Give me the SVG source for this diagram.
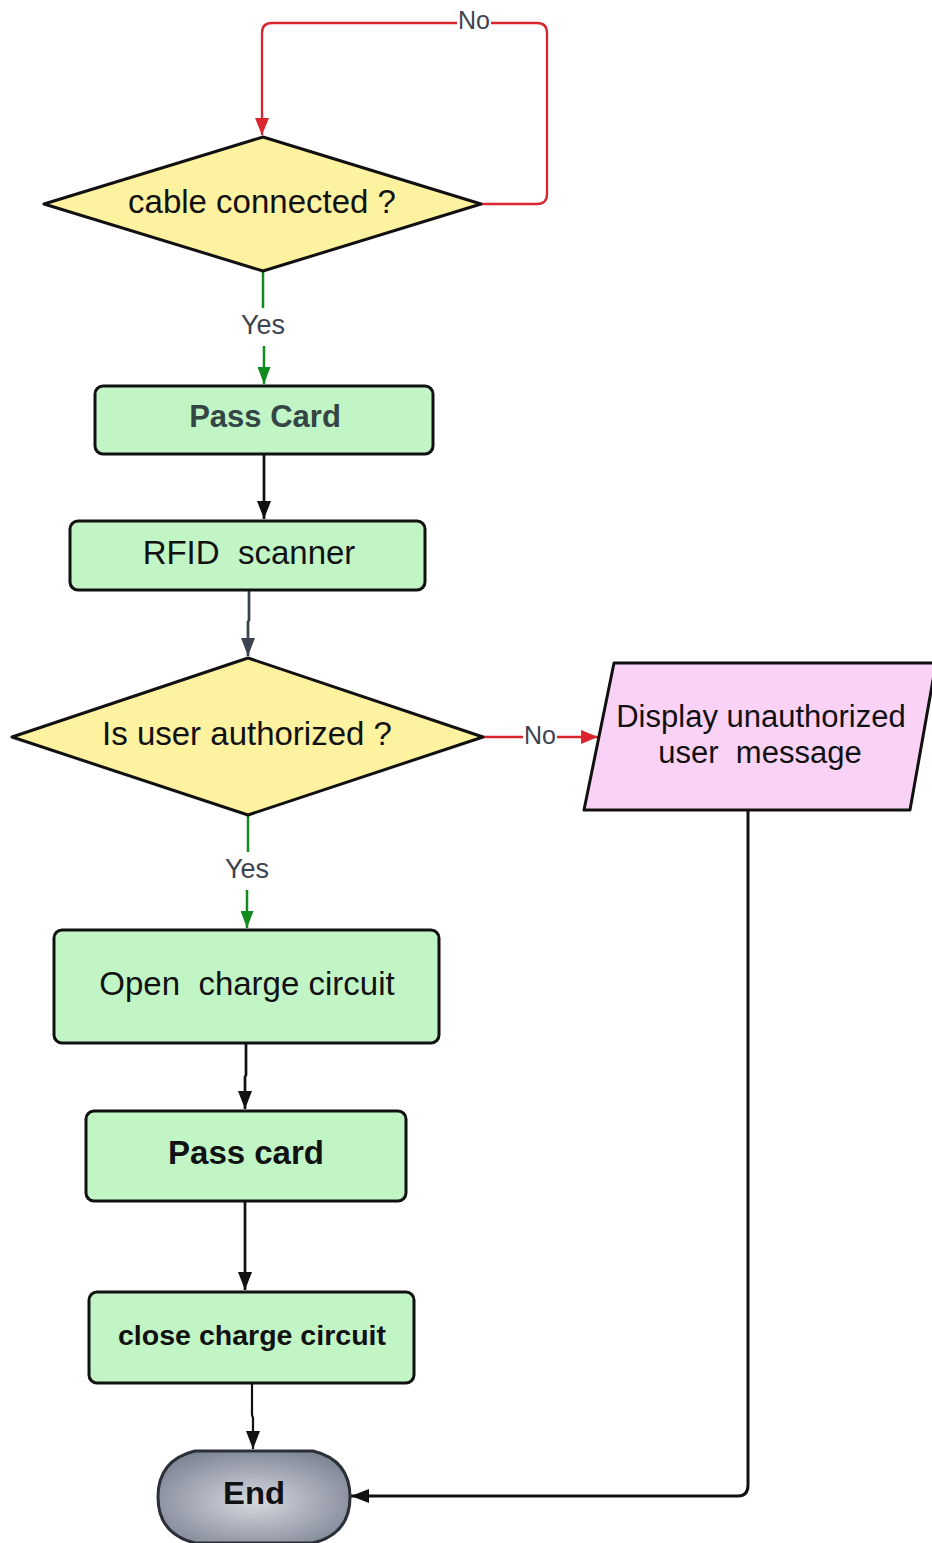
<svg xmlns="http://www.w3.org/2000/svg" width="932" height="1543" viewBox="0 0 932 1543">
<defs>
<style>
.box{fill:#c1f5c6;stroke:#111;stroke-width:3}
.dia{fill:#fdf2a0;stroke:#111;stroke-width:3;stroke-linejoin:round}
.io{fill:#f9d2f5;stroke:#111;stroke-width:3;stroke-linejoin:round}
.t{font-family:"Liberation Sans",Arial,sans-serif;text-anchor:middle;fill:#111}
.lbl{font-family:"Liberation Sans",Arial,sans-serif;text-anchor:middle;fill:#3e4450;font-size:25px}
.red{stroke:#d9262c;stroke-width:2.3;fill:none}
.grn{stroke:#118a1e;stroke-width:2.5;fill:none}
.blk{stroke:#111;stroke-width:2.7;fill:none}
</style>
<marker id="ar" viewBox="0 0 10 10" refX="10" refY="5" markerWidth="17" markerHeight="14" markerUnits="userSpaceOnUse" orient="auto" preserveAspectRatio="none"><path d="M0,0 L10,5 L0,10 z" fill="#d9262c"/></marker>
<marker id="ag" viewBox="0 0 10 10" refX="10" refY="5" markerWidth="17" markerHeight="13" markerUnits="userSpaceOnUse" orient="auto" preserveAspectRatio="none"><path d="M0,0 L10,5 L0,10 z" fill="#118a1e"/></marker>
<marker id="ab" viewBox="0 0 10 10" refX="10" refY="5" markerWidth="18" markerHeight="14" markerUnits="userSpaceOnUse" orient="auto" preserveAspectRatio="none"><path d="M0,0 L10,5 L0,10 z" fill="#111"/></marker>
<marker id="ad" viewBox="0 0 10 10" refX="10" refY="5" markerWidth="18" markerHeight="14" markerUnits="userSpaceOnUse" orient="auto" preserveAspectRatio="none"><path d="M0,0 L10,5 L0,10 z" fill="#3a4250"/></marker>
<radialGradient id="eg" cx="0.5" cy="0.55" r="0.6">
<stop offset="0" stop-color="#d6d9e0"/>
<stop offset="1" stop-color="#7e8595"/>
</radialGradient>
</defs>
<rect width="932" height="1543" fill="#fff"/>
<g id="connectors">
<path class="red" d="M481,204 H537 Q547,204 547,194 V33 Q547,23 537,23 H272 Q262,23 262,33 V135" marker-end="url(#ar)"/>
<rect x="457" y="8" width="34" height="24" fill="#fff"/>
<text class="lbl" x="474" y="29">No</text>
<path class="grn" d="M263,271 V308"/>
<text class="lbl" x="263" y="334" font-size="27" style="font-size:27px">Yes</text>
<path class="grn" d="M264,346 V384" marker-end="url(#ag)"/>
<path class="blk" d="M264,455 V519" marker-end="url(#ab)"/>
<path d="M249,591 V620 L248,622 V656" stroke="#3a4250" stroke-width="2.7" fill="none" marker-end="url(#ad)"/>
<path class="red" d="M483,737 H598" marker-end="url(#ar)"/>
<rect x="523" y="722" width="34" height="26" fill="#fff"/>
<text class="lbl" x="540" y="744">No</text>
<path class="grn" d="M248,816 V852"/>
<text class="lbl" x="247" y="878" style="font-size:27px">Yes</text>
<path class="grn" d="M247,890 V928" marker-end="url(#ag)"/>
<path class="blk" d="M246,1044 V1075 L245,1077 V1109" marker-end="url(#ab)"/>
<path class="blk" d="M245,1202 V1290" marker-end="url(#ab)"/>
<path d="M252,1384 V1415 L253,1418 V1449" stroke="#111" stroke-width="2.2" fill="none" marker-end="url(#ab)"/>
<path class="blk" d="M748,811 V1485 Q748,1496 738,1496 H351" style="stroke-width:3" marker-end="url(#ab)"/>
</g>
<g id="cable">
<polygon class="dia" points="263,137 481,204 263,271 44,204"/>
<text class="t" x="262" y="213" font-size="33">cable connected ?</text>
</g>
<g id="passcard1">
<rect class="box" x="95" y="386" width="338" height="68" rx="8"/>
<text class="t" x="265" y="427" font-size="31" font-weight="bold" style="fill:#344545">Pass Card</text>
</g>
<g id="rfid">
<rect class="box" x="70" y="521" width="355" height="69" rx="8"/>
<text class="t" x="249" y="564" font-size="33" xml:space="preserve">RFID  scanner</text>
</g>
<g id="auth">
<polygon class="dia" points="248,658 483,737 248,815 12,737"/>
<text class="t" x="247" y="745" font-size="33">Is user authorized ?</text>
</g>
<g id="display">
<polygon class="io" points="614,663 936,663 910,810 584,810"/>
<text class="t" x="761" y="727" font-size="31">Display unauthorized</text>
<text class="t" x="760" y="763" font-size="31" xml:space="preserve">user  message</text>
</g>
<g id="open">
<rect class="box" x="54" y="930" width="385" height="113" rx="8"/>
<text class="t" x="247" y="995" font-size="33" xml:space="preserve">Open  charge circuit</text>
</g>
<g id="passcard2">
<rect class="box" x="86" y="1111" width="320" height="90" rx="8"/>
<text class="t" x="246" y="1164" font-size="33" font-weight="bold">Pass card</text>
</g>
<g id="close">
<rect class="box" x="89" y="1292" width="325" height="91" rx="8"/>
<text class="t" x="252" y="1345" font-size="27" font-weight="bold" textLength="268" lengthAdjust="spacingAndGlyphs">close charge circuit</text>
</g>
<g id="end">
<path d="M195,1451 H313 Q350,1460 350,1497 Q350,1534 313,1543 H195 Q158,1534 158,1497 Q158,1460 195,1451 Z" fill="url(#eg)" stroke="#2a2f38" stroke-width="3"/>
<text class="t" x="254" y="1504" font-size="32" font-weight="bold" textLength="62" lengthAdjust="spacingAndGlyphs">End</text>
</g>
</svg>
